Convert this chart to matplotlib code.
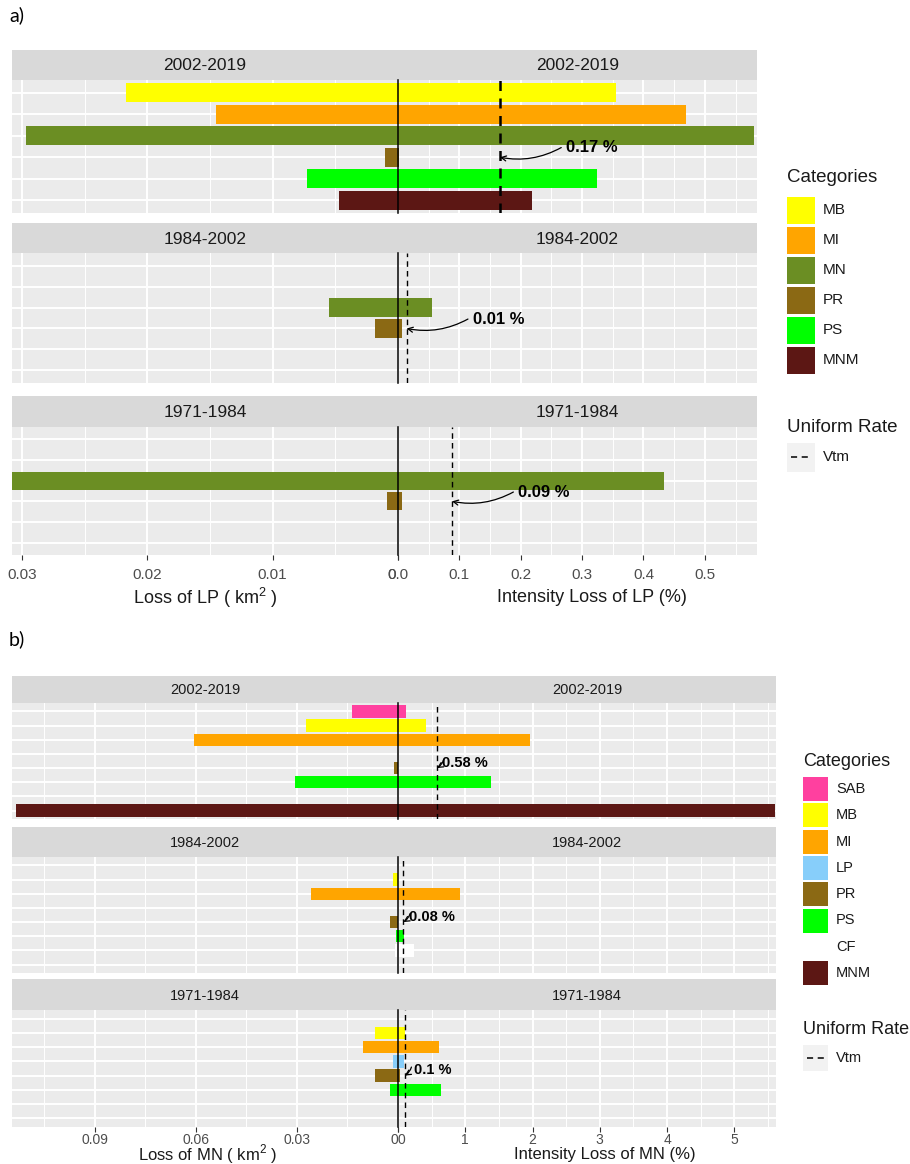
import matplotlib.pyplot as plt
from matplotlib.patches import Rectangle
from matplotlib.ticker import MultipleLocator
from matplotlib.transforms import ScaledTranslation

plt.rcParams['font.family'] = ['Liberation Sans', 'DejaVu Sans']
plt.rcParams['mathtext.fontset'] = 'custom'
plt.rcParams['mathtext.rm'] = 'Liberation Sans'

W, H = 910, 1164

periods = ["2002-2019", "1984-2002", "1971-1984"]

# a) loss of LP to each category: area (km2) and intensity (%)
lp_categories = ["MB", "MI", "MN", "PR", "PS", "MNM"]
lp_loss_2002_2019 = [0.0217, 0.0145, 0.0297, 0.0010, 0.0073, 0.0047]
lp_int_2002_2019 = [0.356, 0.470, 0.580, 0.002, 0.325, 0.218]
lp_loss_1984_2002 = [0, 0, 0.0055, 0.0018, 0, 0]
lp_int_1984_2002 = [0, 0, 0.056, 0.007, 0, 0]
lp_loss_1971_1984 = [0, 0, 0.0308, 0.0009, 0, 0]
lp_int_1971_1984 = [0, 0, 0.434, 0.006, 0, 0]
lp_vtm = [0.166, 0.014, 0.088]

# b) loss of MN to each category
mn_categories = ["SAB", "MB", "MI", "LP", "PR", "PS", "CF", "MNM"]
mn_loss_2002_2019 = [0.0137, 0.0273, 0.0606, 0, 0.0012, 0.0306, 0, 0.1135]
mn_int_2002_2019 = [0.12, 0.41, 1.96, 0, 0, 1.38, 0, 5.60]
mn_loss_1984_2002 = [0, 0.0016, 0.0258, 0, 0.0024, 0.0006, 0.0009, 0]
mn_int_1984_2002 = [0, 0, 0.92, 0, 0, 0.09, 0.24, 0]
mn_loss_1971_1984 = [0, 0.0068, 0.0105, 0.0016, 0.0068, 0.0024, 0, 0]
mn_int_1971_1984 = [0, 0.10, 0.61, 0.09, 0.03, 0.64, 0, 0]
mn_vtm = [0.58, 0.08, 0.10]

fill = {"SAB": "#FF409F", "MB": "#FFFF00", "MI": "#FFA500", "LP": "#87CEFA",
        "MN": "#6B8E23", "PR": "#8B6914", "PS": "#00FF00", "CF": "#FFFFFF",
        "MNM": "#5C1714"}

fig = plt.figure(figsize=(W / 100, H / 100), dpi=100)
over = fig.add_axes([0, 0, 1, 1])
over.set_xlim(0, W)
over.set_ylim(H, 0)
over.axis('off')


def frac(x0, y0, x1, y1):
    return [x0 / W, 1 - y1 / H, (x1 - x0) / W, (y1 - y0) / H]


def base_style(ax, n, minor):
    ax.set_facecolor("#EBEBEB")
    for s in ax.spines.values():
        s.set_visible(False)
    ax.set_ylim(n - 0.4, -0.6)
    ax.set_yticks(range(n))
    ax.set_yticklabels([])
    ax.tick_params(axis='y', length=0)
    ax.xaxis.set_minor_locator(MultipleLocator(minor))
    ax.grid(which='major', color='white', lw=1.4)
    ax.grid(which='minor', axis='x', color='white', lw=0.7)
    ax.tick_params(axis='x', which='minor', length=0)
    ax.set_axisbelow(True)


def draw_block(cfg):
    cats = cfg["cats"]
    n = len(cats)
    xl, xm, xr = cfg["x"]
    colors = [fill[c] for c in cats]
    for k, (s0, p0, p1) in enumerate(cfg["rows"]):
        last = k == len(cfg["rows"]) - 1
        axL = fig.add_axes(frac(xl, p0, xm, p1))
        axR = fig.add_axes(frac(xm, p0, xr, p1))
        base_style(axL, n, cfg["lminor"])
        base_style(axR, n, cfg["rminor"])
        axL.barh(range(n), cfg["loss"][k], height=0.88, color=colors, zorder=2)
        axR.barh(range(n), cfg["int"][k], height=0.88, color=colors, zorder=2)
        axL.set_xlim(cfg["lmax"], 0)
        axR.set_xlim(0, cfg["rmax"])
        axL.set_xticks(cfg["lticks"])
        axR.set_xticks(cfg["rticks"])
        if last:
            axL.set_xticklabels(cfg["llabels"])
            axR.set_xticklabels(cfg["rlabels"])
            for ax in (axL, axR):
                ax.tick_params(axis='x', which='major', length=3.5, width=0.8,
                               color='#333333', labelsize=cfg["fs_tick"],
                               labelcolor='#4D4D4D', pad=cfg["pad"])
            # the two zero labels meet at the shared edge
            for t in axL.get_xticklabels():
                if t.get_text() == "0":
                    t.set_transform(t.get_transform() +
                                    ScaledTranslation(cfg["zero_shift"] / 100, 0,
                                                      fig.dpi_scale_trans))
            if cfg["right_zero_left"]:
                for t in axR.get_xticklabels():
                    if t.get_text() == "0":
                        t.set_ha('left')
        else:
            axL.set_xticklabels([])
            axR.set_xticklabels([])
            axL.tick_params(axis='x', which='major', length=0)
            axR.tick_params(axis='x', which='major', length=0)

        # zero line and uniform intensity
        axR.axvline(0, color='black', lw=1.1, zorder=4, clip_on=False)
        vtm = cfg["vtm"][k]
        axR.axvline(vtm, color='black', lw=cfg["vtm_lw"][k], ls=(0, (4, 3)), zorder=4)
        axR.annotate("", xy=(vtm, cfg["y_end"]),
                     xytext=(vtm + 0.1, cfg["y_start"]),
                     arrowprops=dict(arrowstyle='->', color='black', lw=0.9,
                                     connectionstyle='arc3,rad=-0.18',
                                     shrinkA=0, shrinkB=0, mutation_scale=9),
                     zorder=5)
        axR.text(vtm + cfg["text_dx"], cfg["y_text"], f"{round(vtm, 2):g} %",
                 ha='center', va='center', fontweight='bold',
                 fontsize=cfg["fs_note"], color='black', zorder=5)

        # facet strip
        over.add_patch(Rectangle((xl, s0), xr - xl, p0 - s0, fc='#D9D9D9', ec='none'))
        for cx in ((xl + xm) / 2, (xm + xr) / 2):
            over.text(cx, (s0 + p0) / 2 + 1, periods[k], ha='center', va='center',
                      fontsize=cfg["fs_strip"], color='#1A1A1A')

    ty = cfg["title_y"]
    over.text(cfg["title_x"][0], ty, cfg["titles"][0], ha='center', va='center',
              fontsize=cfg["fs_title"], color='#1A1A1A')
    over.text(cfg["title_x"][1], ty, cfg["titles"][1], ha='center', va='center',
              fontsize=cfg["fs_title"], color='#1A1A1A')


def draw_legend(cats, x, title_y, y0, step, key_h, key_w, ur_y, vtm_y, fs_title, fs_lab):
    over.text(x, title_y, "Categories", ha='left', va='center', fontsize=fs_title, color='#1A1A1A')
    for i, c in enumerate(cats):
        cy = y0 + i * step
        over.add_patch(Rectangle((x, cy - key_h / 2), key_w, key_h, fc=fill[c], ec='none'))
        over.text(x + key_w + 8, cy, c, ha='left', va='center', fontsize=fs_lab, color='#1A1A1A')
    over.text(x, ur_y, "Uniform Rate", ha='left', va='center', fontsize=fs_title, color='#1A1A1A')
    over.add_patch(Rectangle((x, vtm_y - key_h / 2 - 1), key_w, key_h + 2, fc='#F2F2F2', ec='none'))
    over.plot([x + 4, x + key_w - 4], [vtm_y, vtm_y], color='black', lw=1.1, ls=(0, (4, 3)))
    over.text(x + key_w + 8, vtm_y, "Vtm", ha='left', va='center', fontsize=fs_lab, color='#1A1A1A')


draw_block(dict(
    cats=lp_categories,
    loss=[lp_loss_2002_2019, lp_loss_1984_2002, lp_loss_1971_1984],
    int=[lp_int_2002_2019, lp_int_1984_2002, lp_int_1971_1984],
    vtm=lp_vtm, vtm_lw=[1.8, 1.0, 1.0],
    x=(12, 398, 757),
    rows=[(50, 80, 213), (223, 253, 383), (396, 427, 555)],
    lmax=0.0308, rmax=0.585,
    lticks=[0, 0.01, 0.02, 0.03], llabels=["0", "0.01", "0.02", "0.03"],
    rticks=[0, 0.1, 0.2, 0.3, 0.4, 0.5], rlabels=["0.0", "0.1", "0.2", "0.3", "0.4", "0.5"],
    lminor=0.005, rminor=0.05, zero_shift=-6, right_zero_left=False,
    text_dx=0.15, y_start=2.55, y_text=2.55, y_end=3.0,
    fs_tick=11, fs_strip=12.5, fs_note=12, pad=6,
    titles=["Loss of LP ( km$^{2}$ )", "Intensity Loss of LP (%)"],
    title_x=(205, 592), title_y=598, fs_title=13,
))

draw_block(dict(
    cats=mn_categories,
    loss=[mn_loss_2002_2019, mn_loss_1984_2002, mn_loss_1971_1984],
    int=[mn_int_2002_2019, mn_int_1984_2002, mn_int_1971_1984],
    vtm=mn_vtm, vtm_lw=[1.0, 1.0, 1.0],
    x=(12, 398, 776),
    rows=[(676, 703, 819), (827, 857, 973), (979, 1010, 1127)],
    lmax=0.1146, rmax=5.62,
    lticks=[0, 0.03, 0.06, 0.09], llabels=["0", "0.03", "0.06", "0.09"],
    rticks=[0, 1, 2, 3, 4, 5], rlabels=["0", "1", "2", "3", "4", "5"],
    lminor=0.015, rminor=0.5, zero_shift=-3.5, right_zero_left=True,
    text_dx=0.42, y_start=3.4, y_text=3.62, y_end=4.0,
    fs_tick=10, fs_strip=10.5, fs_note=10.5, pad=1,
    titles=["Loss of MN ( km$^{2}$ )", "Intensity Loss of MN (%)"],
    title_x=(208, 605), title_y=1154, fs_title=12,
))

draw_legend(lp_categories, 787, 178, 210, 30, 27, 28, 427, 457, 13.5, 11)
draw_legend(mn_categories, 803, 761, 789, 26.3, 24, 25, 1030, 1058, 13, 10.5)

over.text(9, 15, "a)", ha='left', va='center', fontsize=14, family='Lato', color='black')
over.text(9, 639, "b)", ha='left', va='center', fontsize=14, family='Lato', color='black')

fig.savefig("out.png", dpi=100)
